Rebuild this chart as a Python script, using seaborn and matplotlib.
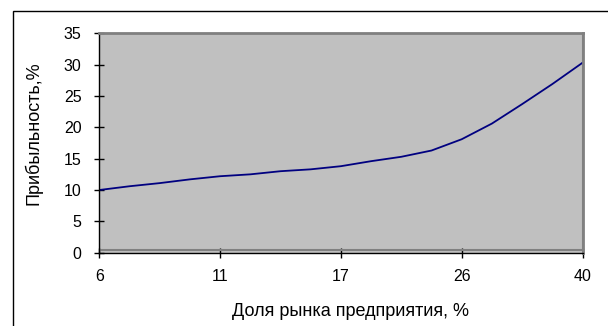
import matplotlib
matplotlib.use("Agg")
import matplotlib.pyplot as plt
import seaborn as sns
import numpy as np
import pandas as pd
from matplotlib.patches import Rectangle

# Data (17 evenly spaced categories, labels shown at every 4th)
point_index = list(range(17))
profitability = [10.0, 10.6, 11.1, 11.7, 12.2, 12.5, 13.0, 13.3, 13.8,
                 14.6, 15.3, 16.3, 18.1, 20.6, 23.7, 26.9, 30.3]
tick_positions = [0, 4, 8, 12, 16]
tick_labels = ["6", "11", "17", "26", "40"]
y_ticks = [0, 5, 10, 15, 20, 25, 30, 35]

sns.set_theme(style="white")
plt.rcParams['font.family'] = ['Liberation Sans', 'DejaVu Sans']

W, H = 608, 326
fig = plt.figure(figsize=(W / 100, H / 100), dpi=100)
fig.patch.set_facecolor("white")

# outer chart border (cut at right/bottom)
fig.patches.append(Rectangle((12.5 / W, -0.05), 1.2, 1 - 10.5 / H + 0.05,
                             transform=fig.transFigure, fill=False,
                             edgecolor="black", linewidth=1.0))

left, right = 99.3 / W, 582.5 / W
top, bottom = 1 - 33.3 / H, 1 - 252.7 / H
ax = fig.add_axes([left, bottom, right - left, top - bottom])
ax.set_facecolor("#C0C0C0")

df = pd.DataFrame({"idx": point_index, "val": profitability})
sns.lineplot(data=df, x="idx", y="val", ax=ax, color="#000080", linewidth=1.3)

ax.set_xlim(0, 16)
ax.set_ylim(0, 35)
ax.set_xticks(tick_positions)
ax.set_xticklabels(tick_labels)
ax.set_yticks(y_ticks)
ax.set_yticklabels([str(v) for v in y_ticks])

for s in ["top", "right"]:
    ax.spines[s].set_color("#808080")
    ax.spines[s].set_linewidth(2.0)
for s in ["left", "bottom"]:
    ax.spines[s].set_color("black")
    ax.spines[s].set_linewidth(1.0)

# inner grey plot-area edge just above the x axis
ax.add_patch(Rectangle((0, 0.012), 1, 0.988, transform=ax.transAxes,
                       fill=False, edgecolor="#808080", linewidth=1.5, zorder=1))

ax.tick_params(axis="both", which="major", direction="inout", length=6.5,
               width=1.0, color="black", labelsize=11.5, labelcolor="black",
               bottom=True, left=True)
ax.tick_params(axis="x", pad=8.5)
ax.tick_params(axis="y", pad=9.5)

ax.set_xlabel("Доля рынка предприятия, %", fontsize=13, color="black")
ax.set_ylabel("Прибыльность,%", fontsize=13, color="black")
ax.xaxis.set_label_coords((350 / W - left) / (right - left),
                          (1 - 311 / H - bottom) / (top - bottom))
ax.yaxis.set_label_coords((33 / W - left) / (right - left),
                          (1 - 133 / H - bottom) / (top - bottom))
ax.xaxis.label.set_va("center")
ax.yaxis.label.set_va("center")

fig.savefig("out.png", dpi=100)
